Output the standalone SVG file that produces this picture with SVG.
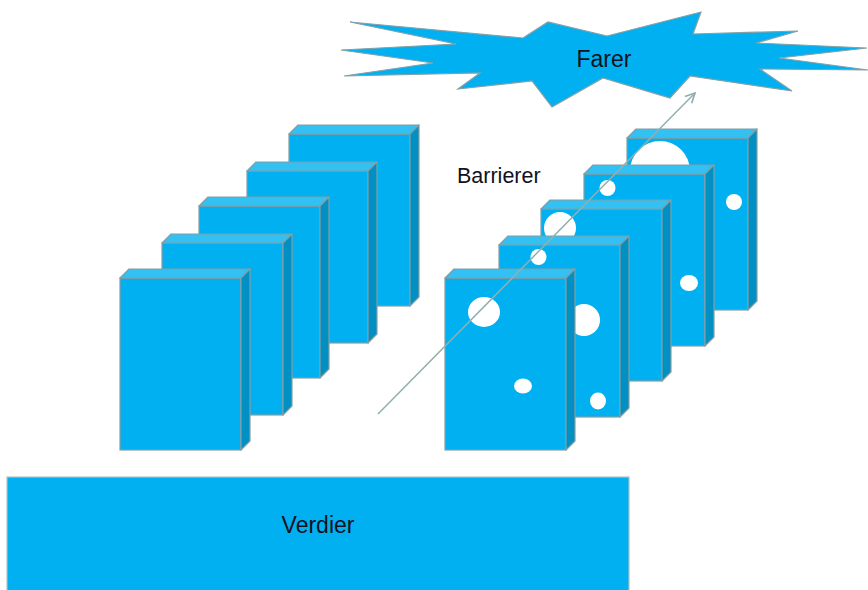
<svg xmlns="http://www.w3.org/2000/svg" width="868" height="590" viewBox="0 0 868 590">
  <style>
    .front { fill: #00B0F0; stroke: #849ea3; stroke-width: 1.2; }
    .top { fill: #33C1F3; stroke: #849ea3; stroke-width: 1.2; stroke-linejoin: round; }
    .side { fill: #0090C4; stroke: #849ea3; stroke-width: 1.2; stroke-linejoin: round; }
    .hole { fill: #ffffff; }
    .lbl { font-family: "Liberation Sans", Arial, sans-serif; fill: #111122; }
    .conn { fill: none; stroke: #8fb0b0; stroke-width: 1.5; }
  </style>
  <defs>
    <marker id="arrow" markerWidth="12" markerHeight="12" refX="9" refY="5" orient="auto" markerUnits="userSpaceOnUse" viewBox="0 0 10 10">
      <path d="M1,1 L9,5 L1,9" fill="none" stroke="#8fb0b0" stroke-width="1.4"/>
    </marker>
    <g id="blk">
      <rect class="front" x="0" y="0" width="121" height="172"/>
      <polygon class="top" points="0,0 9,-9 130,-9 121,0"/>
      <polygon class="side" points="121,0 130,-9 130,163 121,172"/>
    </g>
  </defs>
  <rect width="868" height="590" fill="#ffffff"/>

  <g id="farer">
    <polygon fill="#00B0F0" stroke="#86a0a6" stroke-width="1.2" stroke-linejoin="miter" points="350,22 523,38 548,22 607,36 701,12 693,34 798,31 756,43 867,48 779,58 868,70 760,69 792,91 690,76 670,98 603,78 552,107 532,81 458,89 480,73 344,76 433,63 341,50 456,44"/>
    <text class="lbl" x="604" y="67" font-size="23" text-anchor="middle">Farer</text>
  </g>

  <g id="left-barriers">
    <use href="#blk" x="289" y="134"/>
    <use href="#blk" x="247" y="171"/>
    <use href="#blk" x="199" y="206"/>
    <use href="#blk" x="162" y="243"/>
    <use href="#blk" x="120" y="278"/>
  </g>

  <g id="right-barriers">
    <g id="rb5">
      <use href="#blk" x="627" y="138"/>
      <ellipse class="hole" cx="660" cy="171" rx="30" ry="30"/>
      <ellipse class="hole" cx="734" cy="202" rx="8" ry="8"/>
    </g>
    <g id="rb4">
      <use href="#blk" x="584" y="174"/>
      <ellipse class="hole" cx="607.5" cy="188" rx="8" ry="8"/>
      <ellipse class="hole" cx="689" cy="283" rx="9" ry="8"/>
    </g>
    <g id="rb3">
      <use href="#blk" x="541" y="209"/>
      <ellipse class="hole" cx="560" cy="228" rx="16" ry="16"/>
    </g>
    <g id="rb2">
      <use href="#blk" x="499" y="245"/>
      <ellipse class="hole" cx="538.5" cy="257" rx="8" ry="8"/>
      <ellipse class="hole" cx="584" cy="320" rx="16" ry="16"/>
      <ellipse class="hole" cx="598" cy="401" rx="8" ry="8.5"/>
    </g>
    <g id="rb1">
      <use href="#blk" x="445" y="278"/>
      <ellipse class="hole" cx="484" cy="312" rx="16" ry="15"/>
      <ellipse class="hole" cx="523" cy="386" rx="9" ry="7.5"/>
    </g>
  </g>

  <g id="barrierer-label">
    <text class="lbl" x="457" y="183" font-size="21.5">Barrierer</text>
  </g>

  <g id="verdier">
    <rect x="7" y="477" width="622" height="120" fill="#00B0F0" stroke="#b5c0c4" stroke-width="1.2"/>
    <text class="lbl" x="318" y="533" font-size="23" text-anchor="middle">Verdier</text>
  </g>

  <g id="connectors">
    <line class="conn" x1="378" y1="414" x2="695" y2="93" marker-end="url(#arrow)"/>
  </g>
</svg>
